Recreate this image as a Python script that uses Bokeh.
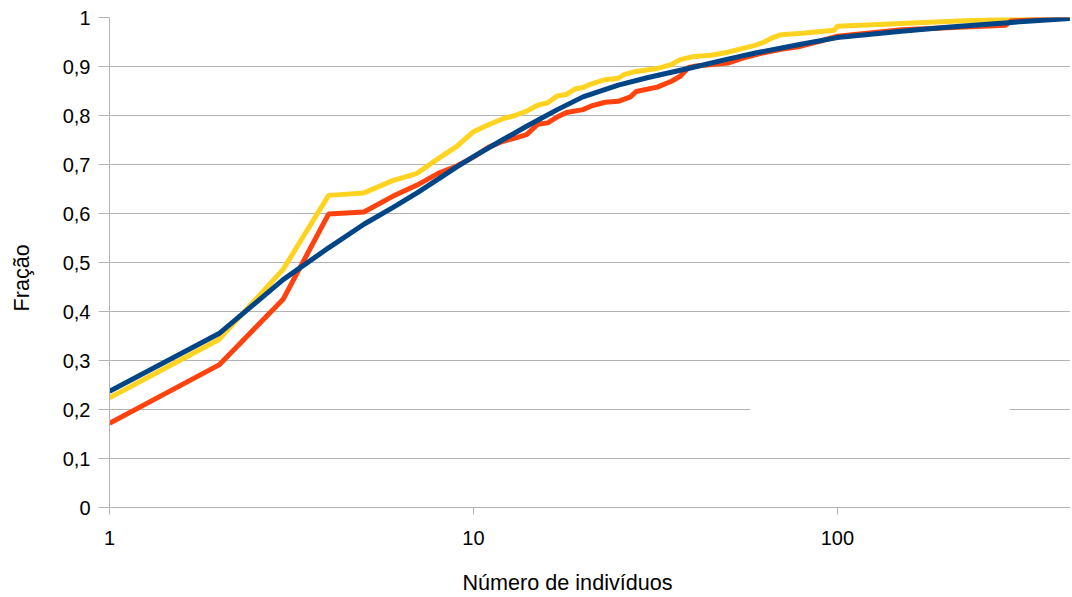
from bokeh.plotting import figure
from bokeh.models import FixedTicker, Range1d, BoxAnnotation, Title
from bokeh.embed import file_html
from bokeh.resources import INLINE

# ---- data ----
yellow_x = [1, 2, 3, 4, 5, 6, 7, 8, 9, 10, 11, 12, 13, 14, 15, 16, 17, 18, 19, 20,
            21, 23, 25, 26, 28, 32, 35, 37, 40, 45, 50, 55, 60, 63, 66, 70, 80, 98,
            100, 150, 200, 300, 435]
yellow_y = [0.224, 0.343, 0.486, 0.637, 0.642, 0.667, 0.682, 0.712, 0.737, 0.767,
            0.781, 0.793, 0.800, 0.809, 0.821, 0.826, 0.840, 0.843, 0.854, 0.857,
            0.864, 0.873, 0.876, 0.884, 0.890, 0.896, 0.904, 0.914, 0.920, 0.923,
            0.929, 0.937, 0.944, 0.950, 0.958, 0.965, 0.968, 0.974, 0.982, 0.988,
            0.992, 0.997, 1.000]

orange_x = [1, 2, 3, 4, 5, 6, 7, 8, 9, 10, 11, 12, 13, 14, 15, 16, 17, 18, 20, 21,
            23, 25, 27, 28, 32, 35, 37, 39, 41, 50, 55, 61, 70, 79, 90, 100, 150,
            200, 290, 300, 435]
orange_y = [0.172, 0.291, 0.425, 0.599, 0.603, 0.635, 0.658, 0.682, 0.697, 0.715,
            0.735, 0.747, 0.754, 0.761, 0.782, 0.785, 0.797, 0.806, 0.812, 0.819,
            0.827, 0.829, 0.838, 0.849, 0.858, 0.870, 0.880, 0.898, 0.901, 0.907,
            0.917, 0.926, 0.935, 0.941, 0.952, 0.962, 0.975, 0.979, 0.984, 0.993,
            1.000]

blue_x = [1, 2, 3, 4, 5, 6, 7, 8, 9, 10, 12, 14, 17, 20, 25, 30, 40, 50, 60, 80,
          100, 150, 200, 300, 435]
blue_y = [0.237, 0.355, 0.465, 0.530, 0.578, 0.612, 0.642, 0.670, 0.695, 0.716,
          0.750, 0.778, 0.812, 0.838, 0.862, 0.877, 0.898, 0.915, 0.928, 0.946,
          0.959, 0.972, 0.980, 0.990, 0.998]

y_ticks = [0, 0.1, 0.2, 0.3, 0.4, 0.5, 0.6, 0.7, 0.8, 0.9, 1]
y_tick_labels = ["0", "0,1", "0,2", "0,3", "0,4", "0,5", "0,6", "0,7", "0,8", "0,9", "1"]
x_ticks = [1, 10, 100]
x_tick_labels = ["1", "10", "100"]
x_title = "Número de indivíduos"
y_title = "Fração"

FONT = "Liberation Sans"
GRID = "#b3b3b3"

p = figure(width=1070, height=596, x_axis_type="log",
           x_range=Range1d(1, 437), y_range=Range1d(0, 1),
           output_backend="svg", toolbar_location=None,
           min_border_left=109, min_border_right=0,
           min_border_top=17, min_border_bottom=89)
p.outline_line_color = None
p.background_fill_color = "white"

# lines
p.line(yellow_x, yellow_y, line_color="#ffd320", line_width=5)
p.line(orange_x, orange_y, line_color="#ff420e", line_width=5)
p.line(blue_x, blue_y, line_color="#004586", line_width=5)

# empty legend area hiding part of a gridline
p.add_layout(BoxAnnotation(left=57.7, right=297, bottom=0.193, top=0.207,
                           fill_color="white", fill_alpha=1, line_color=None,
                           level="underlay"))

# grids
p.xgrid.visible = False
p.ygrid.grid_line_color = GRID
p.ygrid.grid_line_width = 1
p.ygrid.ticker = FixedTicker(ticks=y_ticks)

# y axis
ya = p.yaxis[0]
ya.ticker = FixedTicker(ticks=y_ticks)
ya.major_label_overrides = {t: l for t, l in zip(y_ticks, y_tick_labels)}
ya.major_label_text_font = FONT
ya.major_label_text_font_size = "20px"
ya.major_label_text_color = "black"
ya.major_label_standoff = 8
ya.major_tick_out = 11
ya.major_tick_in = 0
ya.minor_tick_out = 0
ya.minor_tick_in = 0
ya.axis_line_color = GRID
ya.major_tick_line_color = GRID
# blank spacer label to push the title outward
ya.axis_label = " "
ya.axis_label_text_font_size = "1px"
ya.axis_label_standoff = 17

# x axis
xa = p.xaxis[0]
xa.ticker = FixedTicker(ticks=x_ticks)
xa.major_label_overrides = {t: l for t, l in zip(x_ticks, x_tick_labels)}
xa.major_label_text_font = FONT
xa.major_label_text_font_size = "20px"
xa.major_label_text_color = "black"
xa.major_label_standoff = 16
xa.major_tick_out = 7
xa.major_tick_in = 0
xa.minor_tick_out = 0
xa.minor_tick_in = 0
xa.axis_line_color = GRID
xa.major_tick_line_color = GRID
xa.axis_label = " "
xa.axis_label_text_font_size = "1px"
xa.axis_label_standoff = 16

# axis titles (centred on the whole chart area, as in the original)
p.add_layout(Title(text=x_title, text_font=FONT, text_font_size="21.6px",
                   text_font_style="normal", text_color="black",
                   align="left", offset=353, standoff=0), "below")
p.add_layout(Title(text=y_title, text_font=FONT, text_font_size="21.6px",
                   text_font_style="normal", text_color="black",
                   align="left", offset=196, standoff=10), "left")

open("out.html", "w").write(file_html(p, INLINE))
